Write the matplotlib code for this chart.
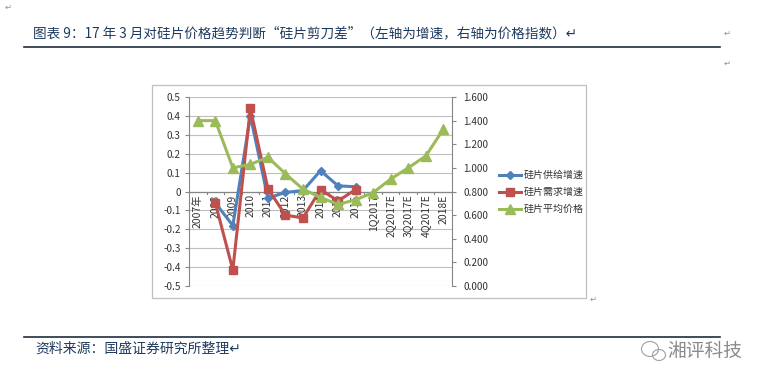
import numpy as np
import matplotlib
matplotlib.use("Agg")
import matplotlib.pyplot as plt
from matplotlib.patches import Rectangle, Ellipse
from matplotlib.lines import Line2D

plt.rcParams['font.family'] = ['Noto Sans CJK SC', 'DejaVu Sans']

# --- data ---
categories = ['2007年', '2008', '2009', '2010', '2011', '2012', '2013', '2014',
              '2015', '2016', '1Q2017', '2Q2017E', '3Q2017E', '4Q2017E', '2018E']
supply_growth = [np.nan, -0.06, -0.18, 0.40, -0.035, -0.005, 0.005, 0.11,
                 0.03, 0.025, np.nan, np.nan, np.nan, np.nan, np.nan]
demand_growth = [np.nan, -0.06, -0.415, 0.44, 0.015, -0.125, -0.14, 0.01,
                 -0.05, 0.01, np.nan, np.nan, np.nan, np.nan, np.nan]
avg_price = [1.40, 1.40, 1.00, 1.03, 1.09, 0.95, 0.82, 0.75,
             0.69, 0.73, 0.79, 0.905, 1.00, 1.10, 1.325]
series_names = ['硅片供给增速', '硅片需求增速', '硅片平均价格']

left_ticks = np.round(np.arange(-0.5, 0.51, 0.1), 1)
left_labels = ['0' if t == 0 else f'{t:g}' for t in left_ticks]
right_ticks = np.round(np.arange(0, 1.61, 0.2), 1)
right_labels = [f'{t:.3f}' for t in right_ticks]

W, H = 765, 385
blue, red, green = '#4F81BD', '#C0504D', '#9BBB59'
axis_grey = '#868686'
text_blue = '#1F3A5F'

fig = plt.figure(figsize=(W / 100, H / 100), dpi=100)

def fx(px):
    return px / W

def fy(py):
    return 1 - py / H

# chart frame
fig.patches.append(Rectangle((fx(152), fy(298)), fx(586) - fx(152), fy(85) - fy(298),
                             transform=fig.transFigure, fill=False,
                             edgecolor='#BFBFBF', lw=0.9))

ax = fig.add_axes([fx(189), fy(286), fx(452) - fx(189), fy(97) - fy(286)])
ax2 = ax.twinx()
x = np.arange(len(categories))

ax.set_xlim(-0.5, len(categories) - 0.5)
ax.set_ylim(-0.5, 0.5)
ax.set_yticks(left_ticks)
ax.set_yticklabels(left_labels, fontsize=7.2, color='#333333')
ax.set_xticks([])
ax.grid(True, axis='y', color='#BFBFBF', lw=0.8)
ax.set_axisbelow(True)
for s in ['top', 'bottom', 'right']:
    ax.spines[s].set_visible(False)
ax.spines['left'].set_color(axis_grey)
ax.tick_params(axis='y', length=3, color=axis_grey, pad=3)

# horizontal axis crossing at zero with category tick marks
ax.axhline(0, color=axis_grey, lw=0.9, zorder=1)
for b in np.arange(-0.5, len(categories), 1.0):
    ax.plot([b, b], [0, -0.012], color=axis_grey, lw=0.8, zorder=1)
for i, lab in enumerate(categories):
    ax.text(i, -0.015, lab, rotation=90, ha='center', va='top',
            fontsize=7.5, color='#333333', zorder=1)

ax2.set_ylim(0, 1.6)
ax2.set_yticks(right_ticks)
ax2.set_yticklabels(right_labels, fontsize=7.2, color='#333333')
for s in ['top', 'bottom', 'left']:
    ax2.spines[s].set_visible(False)
ax2.spines['right'].set_color(axis_grey)
ax2.tick_params(axis='y', length=3, color=axis_grey, pad=5)

l1, = ax.plot(x, supply_growth, color=blue, lw=2.2, marker='D', markersize=4.5,
              zorder=3)
l2, = ax.plot(x, demand_growth, color=red, lw=2.2, marker='s', markersize=6,
              zorder=3)
l3, = ax2.plot(x, avg_price, color=green, lw=2.2, marker='^', markersize=6.5,
               zorder=3)

fig.legend([l1, l2, l3], series_names, loc='upper left',
           bbox_to_anchor=(fx(490), fy(161)), frameon=False, fontsize=7.2,
           handlelength=2.2, labelspacing=0.7, handletextpad=0.3,
           labelcolor='#333333')

# title, rules, source
fig.text(fx(33), fy(33), '图表 9：17 年 3 月对硅片价格趋势判断“硅片剪刀差”（左轴为增速，右轴为价格指数）↵',
         fontsize=9.8, color=text_blue, style='italic', va='center', ha='left')
fig.add_artist(Line2D([fx(24), fx(720)], [fy(47), fy(47)], color='#1F2D3D', lw=1.2))
fig.add_artist(Line2D([fx(24), fx(720)], [fy(337), fy(337)], color='#1F2D3D', lw=1.2))
fig.text(fx(35), fy(349), '资料来源：国盛证券研究所整理↵', fontsize=10,
         color=text_blue, style='italic', va='center', ha='left')

# small paragraph marks
for px, py in [(8, 7), (727, 33), (727, 63), (593, 299)]:
    fig.text(fx(px), fy(py), '↵', fontsize=6, color='#909090', ha='center', va='center')

# watermark
fig.patches.append(Ellipse((fx(650), fy(349)), fx(17), fy(0) - fy(15),
                           transform=fig.transFigure, fill=False,
                           edgecolor='#A0A0A0', lw=0.8))
fig.patches.append(Ellipse((fx(659), fy(355)), fx(13), fy(0) - fy(11),
                           transform=fig.transFigure, fill=False,
                           edgecolor='#A0A0A0', lw=0.8))
fig.text(fx(667), fy(351), '湘评科技', fontsize=13.5, color='#8A8A8A',
         va='center', ha='left')

fig.savefig('out.png', dpi=100)
